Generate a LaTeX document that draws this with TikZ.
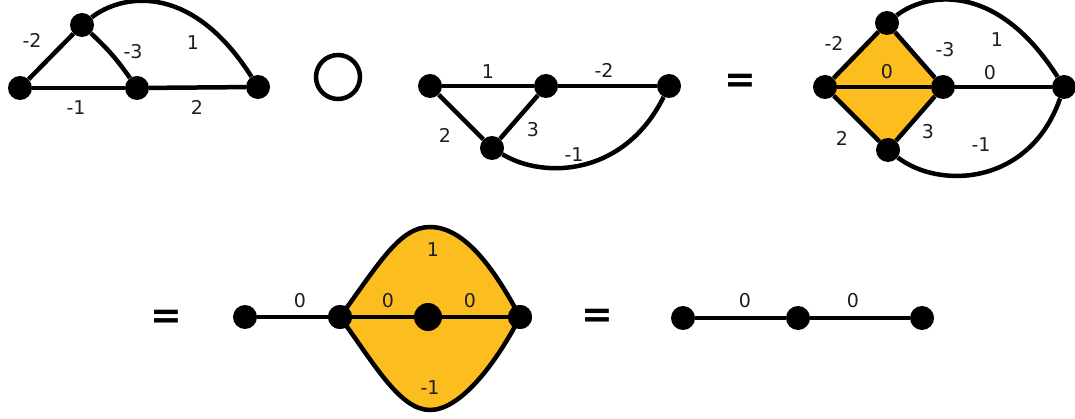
\documentclass[tikz,border=0pt]{standalone}
\usepackage{fontspec}
\setmainfont{DejaVu Sans}
\usetikzlibrary{backgrounds}
\definecolor{fillyel}{RGB}{252,190,30}
\definecolor{labcol}{RGB}{30,30,30}
\begin{document}
\begin{tikzpicture}[x=1pt,y=-1pt,
  vtx/.style={circle,fill=black,inner sep=0pt,minimum size=24pt},
  bigvtx/.style={vtx,minimum size=28pt},
  edge/.style={line width=4.5pt},
  thinedge/.style={line width=3.5pt},
  lab/.style={font=\fontsize{19}{22}\selectfont,text=labcol,inner sep=0pt},
  eqsign/.style={font=\fontsize{38}{44}\selectfont\bfseries,inner sep=0pt},
  region/.style={fill=fillyel}]
\useasboundingbox (0,0) rectangle (1075,419);

% ---------- graph 1 ----------
\node[vtx] (A) at (20,88) {};
\node[vtx] (B) at (82,25) {};
\node[vtx] (C) at (137,88) {};
\node[vtx] (D) at (258,87) {};
\draw[edge] (A) -- (B);
\draw[edge] (B) to[bend left=6] (C);
\draw[edge] (B) .. controls +(38,-30) and +(-68,-107) .. (D);
\draw[edge] (A) -- (C);
\draw[edge] (C) -- (D);
\node[lab] (a1) at (32,40) {-2};
\node[lab] (a2) at (133,52) {-3};
\node[lab] (a3) at (193,43) {1};
\node[lab] (a4) at (76,108) {-1};
\node[lab] (a5) at (197,107) {2};

% composition operator
\node[circle,draw,line width=4.5pt,minimum size=44pt,inner sep=0pt] (comp) at (338,77) {};

% ---------- graph 2 ----------
\node[vtx] (E) at (430,86) {};
\node[vtx] (F) at (546,86) {};
\node[vtx] (G) at (669,86) {};
\node[vtx] (H) at (492,148) {};
\draw[edge] (E) -- (F);
\draw[edge] (F) -- (G);
\draw[edge] (E) -- (H);
\draw[edge] (H) -- (F);
\draw[edge] (H) .. controls (545,180) and (625,175) .. (G);
\node[lab] (b1) at (488,72) {1};
\node[lab] (b2) at (604,70) {-2};
\node[lab] (b3) at (445,135) {2};
\node[lab] (b4) at (533,130) {3};
\node[lab] (b5) at (574,155) {-1};

\node[eqsign] (eq1) at (740,83) {=};

% ---------- graph 3 ----------
\node[vtx] (I) at (825,87) {};
\node[vtx] (J) at (887,23) {};
\node[vtx] (K) at (943,87) {};
\node[vtx] (L) at (888,150) {};
\node[vtx] (M) at (1064,87) {};
\begin{scope}[on background layer]
  \fill[region] (I.center) -- (J.center) -- (K.center) -- (L.center) -- cycle;
\end{scope}
\draw[edge] (I) -- (J);
\draw[edge] (J) -- (K);
\draw[edge] (K) -- (L);
\draw[edge] (L) -- (I);
\draw[edge] (I) -- (K);
\draw[edge] (K) -- (M);
\draw[edge] (J) .. controls +(38,-30) and +(-68,-107) .. (M);
\draw[edge] (L) .. controls (940,190) and (1030,185) .. (M);
\node[lab] (c1) at (834,43) {-2};
\node[lab] (c2) at (945,50) {-3};
\node[lab] (c3) at (997,40) {1};
\node[lab] (c4) at (887,72) {0};
\node[lab] (c5) at (990,73) {0};
\node[lab] (c6) at (842,138) {2};
\node[lab] (c7) at (928,132) {3};
\node[lab] (c8) at (981,145) {-1};

% ---------- row 2 ----------
\node[eqsign] (eq2) at (166,319) {=};

\node[vtx] (N) at (245,317) {};
\node[vtx] (O) at (340,317) {};
\node[bigvtx] (P) at (428,317) {};
\node[vtx] (Q) at (520,317) {};
\begin{scope}[on background layer]
  \fill[region] (O.center) .. controls (380,262) and (400,227) .. (430,227)
     .. controls (465,227) and (495,270) .. (Q.center)
     .. controls (495,365) and (460,410) .. (430,410)
     .. controls (400,410) and (375,365) .. (O.center) -- cycle;
\end{scope}
\draw[edge] (O.center) .. controls (380,262) and (400,227) .. (430,227)
     .. controls (465,227) and (495,270) .. (Q.center);
\draw[edge] (O.center) .. controls (375,365) and (400,410) .. (430,410)
     .. controls (460,410) and (495,365) .. (Q.center);
\draw[thinedge] (N) -- (O);
\draw[edge] (O) -- (P);
\draw[edge] (P) -- (Q);
\node[lab] (d1) at (300,301) {0};
\node[lab] (d2) at (433,250) {1};
\node[lab] (d3) at (388,301) {0};
\node[lab] (d4) at (470,301) {0};
\node[lab] (d5) at (430,388) {-1};
% redraw vertices on top of the region outline
\node[vtx] at (O) {};
\node[vtx] at (Q) {};

\node[eqsign] (eq3) at (597,318) {=};

\node[vtx] (R) at (683,318) {};
\node[vtx] (S) at (798,318) {};
\node[vtx] (T) at (922,318) {};
\draw[thinedge] (R) -- (S);
\draw[thinedge] (S) -- (T);
\node[lab] (e1) at (745,301) {0};
\node[lab] (e2) at (853,301) {0};
\end{tikzpicture}
\end{document}
